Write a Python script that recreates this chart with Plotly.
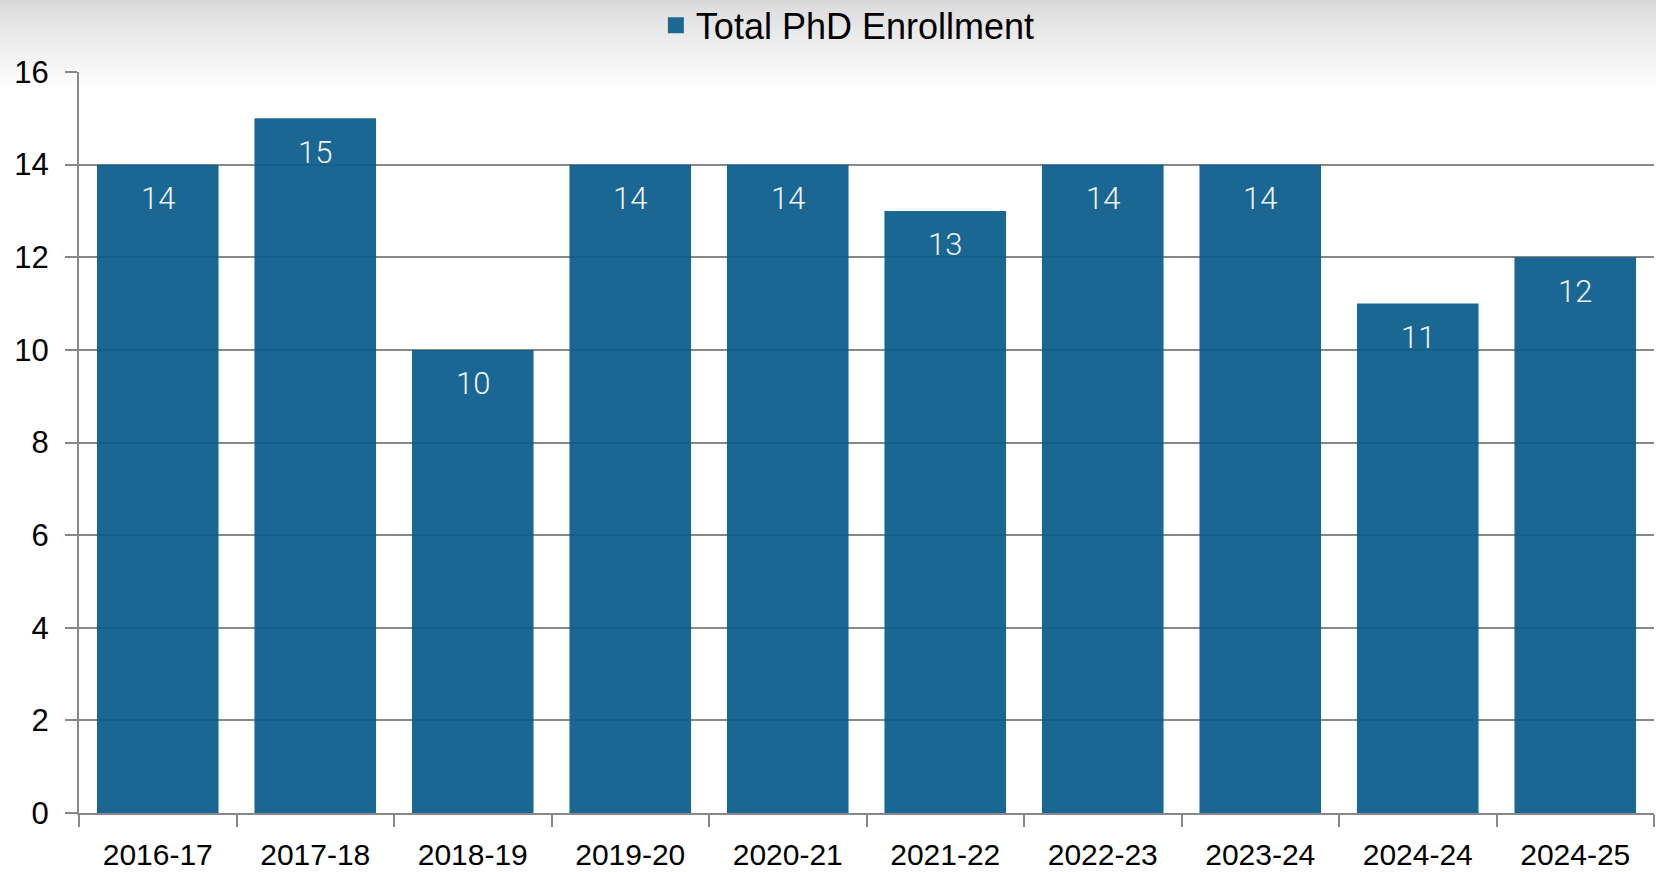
import plotly.graph_objects as go

years = ["2016-17", "2017-18", "2018-19", "2019-20", "2020-21",
         "2021-22", "2022-23", "2023-24", "2024-24", "2024-25"]
enrollment = [14, 15, 10, 14, 14, 13, 14, 14, 11, 12]
series_name = "Total PhD Enrollment"
y_ticks = [0, 2, 4, 6, 8, 10, 12, 14, 16]

W, H = 1656, 872
L, R, T, B = 79, 2, 72, 59
bar_color = "rgb(8,91,138)"

fig = go.Figure()
fig.add_trace(go.Bar(
    x=years, y=enrollment, name=series_name,
    marker=dict(color=bar_color, opacity=0.93, line=dict(width=0)),
    showlegend=False, hoverinfo="x+y",
))
# legend entry
fig.add_trace(go.Scatter(
    x=[None], y=[None], mode="markers", name=series_name,
    marker=dict(symbol="square", size=20, color="rgb(28,104,147)"),
    showlegend=True,
))

annotations = []
for c, v in zip(years, enrollment):
    annotations.append(dict(
        x=c, y=v, xref="x", yref="y", text=str(v), showarrow=False,
        yanchor="middle", yshift=-34,
        font=dict(family="Roboto, Liberation Sans, Arial", size=31, color="#f2f2f2", weight=300),
    ))

# background gradient strips at the top of the page
plot_h = H - T - B
shapes = []
n = 45
for i in range(n):
    p0 = i * 2
    p1 = p0 + 2
    t = i / (n - 1)
    g = int(round(216 + (255 - 216) * (t ** 0.8)))
    shapes.append(dict(
        type="rect", xref="paper", yref="paper", layer="below",
        x0=-L / (W - L - R), x1=1 + R / (W - L - R) + 0.01,
        y0=(H - B - p1) / plot_h, y1=(H - B - p0) / plot_h,
        fillcolor=f"rgb({g},{g},{g})", line=dict(width=0),
    ))

fig.update_layout(
    width=W, height=H,
    margin=dict(l=L, r=R, t=T, b=B, pad=0),
    paper_bgcolor="white", plot_bgcolor="white",
    bargap=0.228,
    font=dict(family="Liberation Sans, Arial", size=31, color="black"),
    showlegend=True,
    legend=dict(
        orientation="h", xref="container", yref="container",
        x=0.512, xanchor="center", y=0.971, yanchor="middle",
        bgcolor="rgba(0,0,0,0)", font=dict(size=36, color="black"),
        itemsizing="trace",
    ),
    annotations=annotations,
    shapes=shapes,
    xaxis=dict(
        type="category", showgrid=False, showline=True, linecolor="#888888", linewidth=2,
        ticks="outside", tickson="boundaries", ticklen=12, tickwidth=2, tickcolor="#888888",
        tickfont=dict(size=30, color="black"), ticklabelstandoff=14, fixedrange=True,
        automargin=False,
    ),
    yaxis=dict(
        range=[0, 16], tickvals=y_ticks, showgrid=True, gridcolor="#888888", gridwidth=2,
        showline=True, linecolor="#888888", linewidth=2, zeroline=False,
        ticks="outside", ticklen=12, tickwidth=2, tickcolor="#888888",
        tickfont=dict(size=31, color="black"), ticklabelstandoff=10, fixedrange=True,
        automargin=False,
    ),
)

fig.write_html(
    "out.html",
    config={"displayModeBar": False},
    post_script="document.body.style.margin='0';document.body.style.overflow='hidden';",
)
